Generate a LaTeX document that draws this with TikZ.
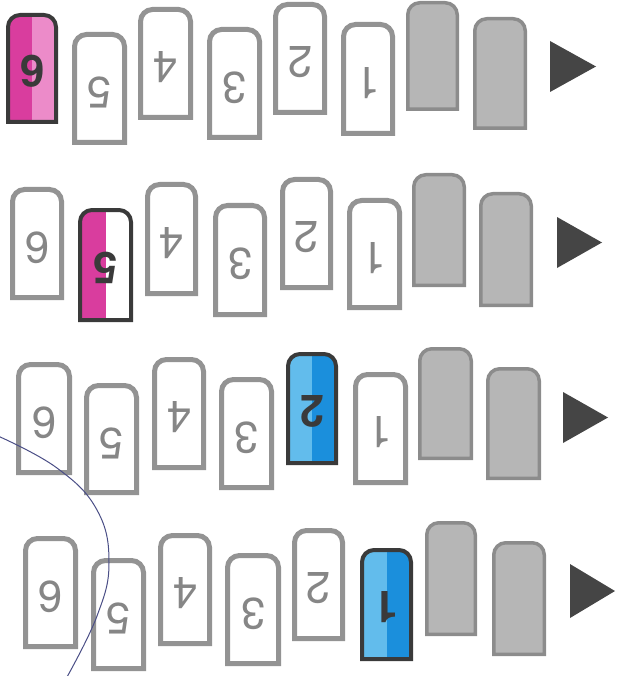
\documentclass[tikz,border=0pt]{standalone}
\usepackage{fontspec}
\setmainfont{TeX Gyre Heros}
\definecolor{edge}{HTML}{939393}
\definecolor{greyfill}{HTML}{B6B6B6}
\definecolor{greyedge}{HTML}{8C8C8C}
\definecolor{darkedge}{HTML}{3A3A3A}
\definecolor{magdark}{HTML}{D93D9E}
\definecolor{maglight}{HTML}{EC8BC9}
\definecolor{bluelight}{HTML}{62BCEC}
\definecolor{bluedark}{HTML}{1B8FDC}
\definecolor{digitgrey}{HTML}{868686}
\definecolor{arrowgrey}{HTML}{454545}
\definecolor{pen}{HTML}{4A4E86}
\tikzset{
  wt/.style={draw=edge, line width=5pt, fill=white},
  gt/.style={draw=greyedge, line width=3.5pt, fill=greyfill},
  ct/.style={draw=darkedge, line width=4pt},
  dig/.style={rotate=180, text=digitgrey, font=\fontsize{44}{44}\selectfont, inner sep=0pt},
  cdig/.style={rotate=180, text=darkedge, font=\fontsize{44}{44}\selectfont\bfseries, inner sep=0pt},
  tri/.style={fill=arrowgrey},
  penline/.style={draw=pen, line width=1pt},
}
\newcommand\tpath[5]{(#1+#5,#4-#5) -- (#1+#5,#2+#5+12) arc[start angle=180,end angle=270,radius=12] -- (#3-#5-12,#2+#5) arc[start angle=270,end angle=360,radius=12] -- (#3-#5,#4-#5) -- cycle}
\newcommand\wtile[6]{%
  \draw[wt] \tpath{#2}{#3}{#4}{#5}{2.5};
  \node[dig] (#1) at ({(#2+#4)/2},{(#3+#5)/2+4}) {#6};}
\newcommand\gtile[4]{%
  \draw[gt] \tpath{#1}{#2}{#3}{#4}{1.75};}
\newcommand\ctile[8]{%
  \begin{scope}
    \clip \tpath{#2}{#3}{#4}{#5}{2};
    \fill[#7] (#2,#3) rectangle ({(#2+#4)/2},#5);
    \fill[#8] ({(#2+#4)/2},#3) rectangle (#4,#5);
  \end{scope}
  \draw[ct] \tpath{#2}{#3}{#4}{#5}{2};
  \node[cdig] (#1) at ({(#2+#4)/2},{(#3+#5)/2+3}) {#6};}
\newcommand\playtri[4]{\fill[tri] (#1,#2) -- (#3,{(#2+#4)/2}) -- (#1,#4) -- cycle;}
\begin{document}
\begin{tikzpicture}[x=1pt,y=-1pt]
\useasboundingbox (0,0) rectangle (621,676);
% Row 1
\ctile{a6}{6}{13}{58}{124}{6}{magdark}{maglight}
\wtile{a5}{72}{32}{127}{145}{5}
\wtile{a4}{138}{7}{193}{120}{4}
\wtile{a3}{207}{27}{262}{140}{3}
\wtile{a2}{273}{2}{327}{115}{2}
\wtile{a1}{341}{22}{395}{136}{1}
\gtile{406}{1}{459}{111}
\gtile{473}{17}{527}{130}
\playtri{550}{41}{596}{92}
% Row 2
\wtile{b6}{10}{187}{64}{300}{6}
\ctile{b5}{78}{208}{133}{322}{5}{magdark}{white}
\wtile{b4}{145}{182}{198}{296}{4}
\wtile{b3}{213}{203}{267}{317}{3}
\wtile{b2}{280}{177}{333}{290}{2}
\wtile{b1}{347}{198}{402}{310}{1}
\gtile{412}{173}{466}{287}
\gtile{479}{192}{533}{307}
\playtri{557}{217}{602}{268}
% Row 3
\wtile{c6}{16}{362}{72}{475}{6}
\wtile{c5}{84}{383}{139}{495}{5}
\wtile{c4}{152}{357}{206}{470}{4}
\wtile{c3}{219}{377}{274}{490}{3}
\ctile{c2}{286}{352}{338}{465}{2}{bluelight}{bluedark}
\wtile{c1}{353}{372}{408}{485}{1}
\gtile{418}{347}{473}{460}
\gtile{486}{367}{541}{480}
\playtri{563}{392}{608}{443}
% Row 4
\wtile{d6}{23}{536}{78}{649}{6}
\wtile{d5}{91}{558}{146}{671}{5}
\wtile{d4}{158}{533}{212}{646}{4}
\wtile{d3}{225}{553}{281}{666}{3}
\wtile{d2}{292}{528}{345}{641}{2}
\ctile{d1}{360}{548}{413}{661}{1}{bluelight}{bluedark}
\gtile{425}{521}{477}{636}
\gtile{492}{541}{546}{656}
\playtri{570}{564}{615}{618}
% pen stroke
\draw[penline] plot[smooth, tension=0.7] coordinates {(-2,436) (57,468) (97,510) (109,563) (97,616) (67,677)};
\end{tikzpicture}
\end{document}
